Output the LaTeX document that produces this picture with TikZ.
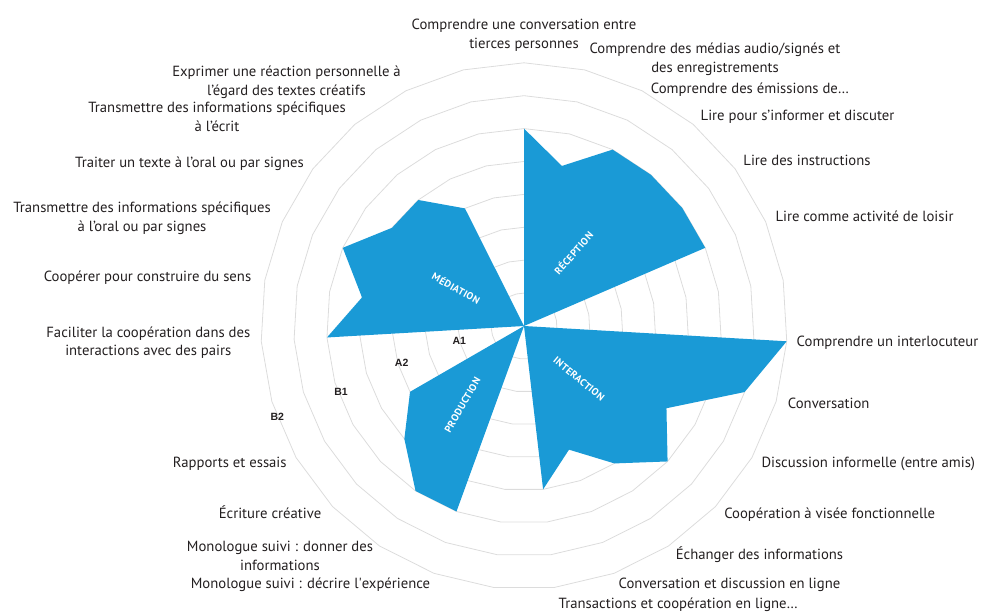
\documentclass[tikz,border=0pt]{standalone}
\usepackage{fontspec}
\setmainfont{PT Sans}
\newfontfamily\levelfont{Liberation Sans}
\newfontfamily\sectorfont[LetterSpace=4]{PT Sans}
\definecolor{cecrblue}{RGB}{26,154,214}
\definecolor{ringgray}{RGB}{220,220,220}
\definecolor{labelgray}{RGB}{35,31,32}

\tikzset{
  ring/.style={draw=ringgray, line width=0.8pt, line join=round},
  sector/.style={fill=cecrblue},
  axislabel/.style={text=labelgray, font=\fontsize{14.7}{18.5}\selectfont, inner sep=0pt, align=center},
  levellabel/.style={text=labelgray, font=\levelfont\bfseries\fontsize{10.5}{11}\selectfont, inner sep=0pt},
  sectorname/.style={text=white, font=\sectorfont\bfseries\fontsize{10}{11}\selectfont, inner sep=0pt}
}

\begin{document}
\begin{tikzpicture}[x=32.9pt, y=32.9pt]
  \useasboundingbox (-524pt,-286pt) rectangle (460pt,326pt);

  % rings, one for each level
  \foreach \r in {1,...,8}
    \draw[ring] (90:\r) \foreach \i in {1,...,26} { -- ({90-\i*40/3}:\r) } -- cycle;

  % the four activities
  \fill[sector] (0,0) \foreach \i/\v in {0/6,1/5,2/6,3/6,4/6,5/6} { -- ({90-\i*40/3}:\v) } -- cycle;
  \fill[sector] (0,0) \foreach \i/\v in {7/8,8/7,9/5,10/6,11/5,12/4,13/5} { -- ({90-\i*40/3}:\v) } -- cycle;
  \fill[sector] (0,0) \foreach \i/\v in {15/6,16/6,17/5,18/4} { -- ({90-\i*40/3}:\v) } -- cycle;
  \fill[sector] (0,0) \foreach \i/\v in {20/6,21/5,22/6,23/5,24/5,25/4} { -- ({90-\i*40/3}:\v) } -- cycle;

  \node[sectorname, rotate=49]    (reception)   at (49.3pt,73pt)   {RÉCEPTION};
  \node[sectorname, rotate=-39.5] (interaction) at (55pt,-53pt)    {INTERACTION};
  \node[sectorname, rotate=60]    (production)  at (-61.5pt,-79pt) {PRODUCTION};
  \node[sectorname, rotate=-29]   (mediation)   at (-67.7pt,38pt)  {MÉDIATION};

  % levels
  \node[levellabel] (lvA1) at (-64.7pt,-14.7pt)  {A1};
  \node[levellabel] (lvA2) at (-122.3pt,-37.3pt) {A2};
  \node[levellabel] (lvB1) at (-183pt,-65.7pt)   {B1};
  \node[levellabel] (lvB2) at (-246.7pt,-90.7pt) {B2};

  % reception
  \node[axislabel] (rec1) at (0pt,291pt) {Comprendre une conversation entre\\tierces personnes};
  \node[axislabel] (rec2) at (191pt,266.5pt) {Comprendre des médias audio/signés et\\des enregistrements};
  \node[axislabel, anchor=base] (rec3) at (226pt,232.7pt) {Comprendre des émissions de…};
  \node[axislabel, anchor=base] (rec4) at (273.5pt,205pt) {Lire pour s’informer et discuter};
  \node[axislabel, anchor=base] (rec5) at (283pt,160pt) {Lire des instructions};
  \node[axislabel, anchor=base] (rec6) at (340.5pt,104.3pt) {Lire comme activité de loisir};

  % interaction
  \node[axislabel, anchor=base] (int1) at (363.5pt,-20.7pt) {Comprendre un interlocuteur};
  \node[axislabel, anchor=base] (int2) at (304.7pt,-83pt) {Conversation};
  \node[axislabel, anchor=base] (int3) at (344.3pt,-141.7pt) {Discussion informelle (entre amis)};
  \node[axislabel, anchor=base] (int4) at (305.7pt,-192.3pt) {Coopération à visée fonctionnelle};
  \node[axislabel, anchor=base] (int5) at (235.5pt,-233pt) {Échanger des informations};
  \node[axislabel, anchor=base] (int6) at (205.5pt,-262.3pt) {Conversation et discussion en ligne};
  \node[axislabel, anchor=base] (int7) at (154.3pt,-282pt) {Transactions et coopération en ligne…};

  % production
  \node[axislabel, anchor=base] (prod1) at (-213.5pt,-262.3pt) {Monologue suivi : décrire l\textquotesingle expérience};
  \node[axislabel] (prod2) at (-244pt,-230pt) {Monologue suivi : donner des\\informations};
  \node[axislabel, anchor=base] (prod3) at (-254pt,-192.3pt) {Écriture créative};
  \node[axislabel, anchor=base] (prod4) at (-294.3pt,-141.7pt) {Rapports et essais};

  % mediation
  \node[axislabel] (med1) at (-375.7pt,-16.5pt) {Faciliter la coopération dans des\\interactions avec des pairs};
  \node[axislabel, anchor=base] (med2) at (-376.5pt,44.3pt) {Coopérer pour construire du sens};
  \node[axislabel] (med3) at (-382pt,107.5pt) {Transmettre des informations spécifiques\\à l’oral ou par signes};
  \node[axislabel, anchor=base] (med4) at (-334.5pt,158.7pt) {Traiter un texte à l’oral ou par signes};
  \node[axislabel] (med5) at (-307pt,209pt) {Transmettre des informations spécifiques\\à l’écrit};
  \node[axislabel] (med6) at (-237.5pt,243.5pt) {Exprimer une réaction personnelle à\\l’égard des textes créatifs};
\end{tikzpicture}
\end{document}
